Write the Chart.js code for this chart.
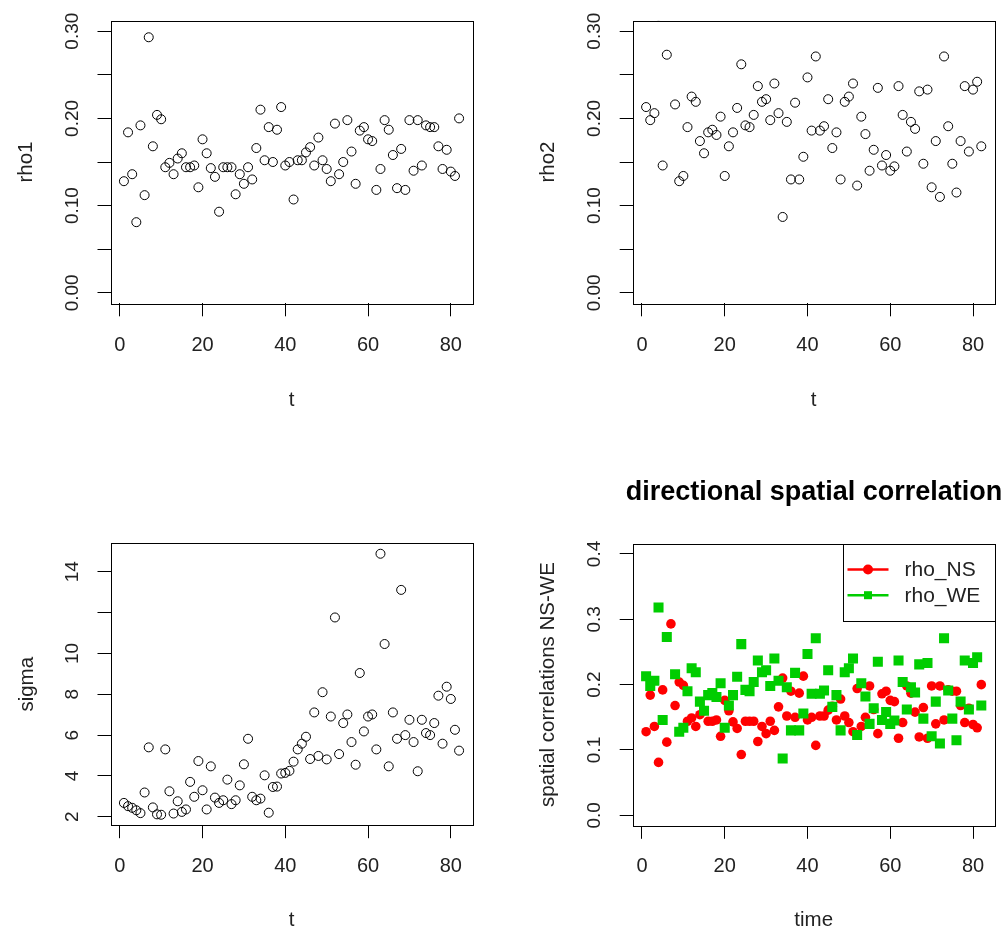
<!DOCTYPE html>
<html><head><meta charset="utf-8">
<script src="https://cdn.jsdelivr.net/npm/chart.js@4.4.1/dist/chart.umd.min.js"></script>
<style>
html,body{margin:0;padding:0;background:#fff;overflow:hidden;width:1008px;height:937px;position:relative;}
canvas{position:absolute;display:block;}
</style></head><body>
<canvas id="c1" width="504" height="468" style="left:0px;top:0px"></canvas>
<canvas id="c2" width="504" height="468" style="left:504px;top:0px"></canvas>
<canvas id="c3" width="504" height="469" style="left:0px;top:468px"></canvas>
<canvas id="c4" width="620" height="469" style="left:504px;top:468px"></canvas>
<script>
// ---------- data ----------
const t = [1,2,3,4,5,6,7,8,9,10,11,12,13,14,15,16,17,18,19,20,21,22,23,24,25,26,27,28,29,30,
  31,32,33,34,35,36,37,38,39,40,41,42,43,44,45,46,47,48,49,50,51,52,53,54,55,56,57,58,59,60,
  61,62,63,64,65,66,67,68,69,70,71,72,73,74,75,76,77,78,79,80,81,82];
const rho1 = [0.128,0.184,0.136,0.081,0.192,0.112,0.293,0.168,0.204,0.199,
  0.144,0.149,0.136,0.154,0.160,0.144,0.144,0.146,0.121,0.176,
  0.160,0.143,0.133,0.093,0.144,0.144,0.144,0.113,0.136,0.125,
  0.144,0.130,0.166,0.210,0.152,0.190,0.150,0.187,0.213,0.146,
  0.150,0.107,0.152,0.152,0.161,0.167,0.146,0.178,0.152,0.142,
  0.128,0.194,0.136,0.150,0.198,0.162,0.125,0.186,0.190,0.176,
  0.174,0.118,0.142,0.198,0.187,0.158,0.120,0.165,0.118,0.198,
  0.140,0.198,0.146,0.192,0.190,0.190,0.168,0.142,0.164,0.139,
  0.134,0.200];
const rho2 = [0.213,0.198,0.206,0.318,0.146,0.273,null,0.216,0.128,0.134,
  0.190,0.225,0.219,0.174,0.160,0.184,0.187,0.181,0.202,0.134,
  0.168,0.184,0.212,0.262,0.192,0.190,0.204,0.237,0.219,0.222,
  0.198,0.240,0.206,0.087,0.196,0.130,0.218,0.130,0.156,0.247,
  0.186,0.271,0.186,0.191,0.222,0.166,0.184,0.130,0.219,0.225,
  0.240,0.123,0.202,0.182,0.140,0.164,0.235,0.146,0.158,0.140,
  0.145,0.237,0.204,0.162,0.196,0.188,0.231,0.148,0.233,0.121,
  0.174,0.110,0.271,0.191,0.148,0.115,0.174,0.237,0.162,0.233,
  0.242,0.168];
const sigma = [2.68,2.52,2.44,2.32,2.18,3.19,5.40,2.46,2.12,2.10,
  5.30,3.25,2.16,2.76,2.24,2.36,3.71,2.98,4.73,3.30,
  2.36,4.47,2.94,2.68,2.81,3.82,2.62,2.81,3.54,4.57,
  5.82,2.98,2.81,2.89,4.03,2.20,3.46,3.48,4.12,4.15,
  4.25,4.70,5.30,5.58,5.92,4.83,7.11,4.98,8.10,4.81,
  6.91,11.76,5.07,6.59,7.01,5.66,4.55,9.04,6.18,6.91,
  7.01,5.30,14.88,10.46,4.47,7.11,5.82,13.11,6.00,6.75,
  5.66,4.23,6.75,6.10,6.00,6.59,7.93,5.58,8.37,7.77,
  6.26,5.24];

const xTicks = [0,20,40,60,80];
const rhoTicks = [0,0.05,0.10,0.15,0.20,0.25,0.30];
const rhoTickLabels = ['0.00','','0.10','','0.20','','0.30'];
const sigmaTicks = [2,4,6,8,10,12,14];
const sigmaTickLabels = ['2','4','6','8','10','','14'];
const corrTicks = [0,0.1,0.2,0.3,0.4];
const corrTickLabels = ['0.0','0.1','0.2','0.3','0.4'];
const rhoLimits = [0, 0.3];
const corrLimits = [0, 0.4];
const seriesNames = ['rho_NS','rho_WE'];
const mainTitle = 'directional spatial correlation';

// ---------- style ----------
const FAM = "'Liberation Sans', Arial, Helvetica, sans-serif";
const XTICK_SIZE = 20, YTICK_SIZE = 19, LAB_SIZE = 20.5, LEG_SIZE = 21, MAIN_SIZE = 27;
const TL = 13; // tick length
const RED = '#ff0000', GREEN = '#00cd00';

function extend(lo, hi){ const d = (hi - lo) * 0.04; return [lo - d, hi + d]; }
function finite(a){ return a.filter(v => v !== null && isFinite(v)); }
function measure(text, size, weight){
  const c = document.createElement('canvas').getContext('2d');
  c.font = (weight || 'normal') + ' ' + size + 'px ' + FAM;
  return c.measureText(text).width;
}
function pts(ys){ return t.map((x, i) => ({x: x, y: ys[i]})); }

const framePlugin = {
  id: 'rframe',
  afterDatasetsDraw(chart){
    const a = chart.chartArea, ctx = chart.ctx;
    ctx.save();
    ctx.strokeStyle = '#000'; ctx.lineWidth = 1;
    ctx.strokeRect(Math.round(a.left) + 0.5, Math.round(a.top) + 0.5,
                   Math.round(a.right - a.left), Math.round(a.bottom - a.top));
    ctx.restore();
  }
};

const legendPlugin = {
  id: 'rlegend',
  afterDraw(chart){
    const o = chart.options.plugins.rlegend;
    if (!o || !o.show) return;
    const a = chart.chartArea, ctx = chart.ctx;
    const w = 152, h = 77;
    const x0 = Math.round(a.right - w) + 0.5, y0 = Math.round(a.top) + 0.5;
    ctx.save();
    ctx.fillStyle = '#fff'; ctx.fillRect(x0, y0, w, h);
    ctx.strokeStyle = '#000'; ctx.lineWidth = 1; ctx.strokeRect(x0, y0, w, h);
    ctx.font = LEG_SIZE + 'px ' + FAM; ctx.textBaseline = 'middle'; ctx.textAlign = 'left';
    chart.data.datasets.forEach((ds, i) => {
      const y = y0 + 25 + i * 25.7;
      ctx.strokeStyle = ds.borderColor; ctx.lineWidth = 2.5;
      ctx.beginPath(); ctx.moveTo(x0 + 4, y); ctx.lineTo(x0 + 45, y); ctx.stroke();
      ctx.fillStyle = ds.backgroundColor;
      if (ds.pointStyle === 'rect') { ctx.fillRect(x0 + 20.5, y - 4, 8, 8); }
      else { ctx.beginPath(); ctx.arc(x0 + 24.5, y, 5, 0, Math.PI * 2); ctx.fill(); }
      ctx.fillStyle = '#222';
      ctx.fillText(ds.label, x0 + 61, y + 1);
    });
    ctx.restore();
  }
};

function makePanel(sp){
  const canvas = document.getElementById(sp.id);
  const W = canvas.width, H = canvas.height, A = sp.area;
  const xTickFont = {family: FAM, size: XTICK_SIZE};
  const yTickFont = {family: FAM, size: YTICK_SIZE};
  const labFont = {family: FAM, size: LAB_SIZE};
  const lh = XTICK_SIZE * 1.2, lhl = LAB_SIZE * 1.2;
  const widest = Math.max.apply(null, sp.yLabels.map(s => measure(s, YTICK_SIZE)));
  const yTickPad = (A.l - sp.yTickCX) - TL - widest / 2;
  const xTickPad = sp.xTickCY - A.b - TL - lh / 2;
  const rightW = W - A.r;
  const scales = {
    x: {
      type: 'linear', position: 'bottom', min: sp.xr[0], max: sp.xr[1],
      afterBuildTicks: s => { s.ticks = xTicks.map(v => ({value: v})); },
      afterFit: s => { s.height = H - A.b; },
      ticks: {autoSkip: false, maxRotation: 0, minRotation: 0, padding: xTickPad,
              color: '#222', font: xTickFont, callback: (v, i) => String(xTicks[i])},
      grid: {drawOnChartArea: false, drawTicks: true, tickLength: TL, color: '#000', lineWidth: 1},
      border: {display: false},
      title: {display: true, text: sp.xTitle, color: '#222', font: labFont,
              padding: {top: 0, bottom: H - sp.xTitleCY - lhl / 2}}
    },
    y: {
      type: 'linear', position: 'left', min: sp.yr[0], max: sp.yr[1],
      afterBuildTicks: s => { s.ticks = sp.yTicks.map(v => ({value: v})); },
      afterFit: s => { s.width = A.l; },
      ticks: {autoSkip: false, minRotation: 90, maxRotation: 90, crossAlign: 'center',
              padding: yTickPad, color: '#222', font: yTickFont,
              callback: (v, i) => sp.yLabels[i]},
      grid: {drawOnChartArea: false, drawTicks: true, tickLength: TL, color: '#000', lineWidth: 1},
      border: {display: false},
      title: {display: true, text: sp.yTitle, color: '#222', font: labFont,
              padding: {top: sp.yTitleCX - lhl / 2, bottom: 0}}
    }
  };
  let padTop = A.t, padRight = rightW;
  const plugins = {legend: {display: false}, tooltip: {enabled: false},
                   rlegend: {show: !!sp.legend}};
  if (sp.main) {
    const mlh = MAIN_SIZE * 1.2;
    const pt = sp.mainCY - mlh / 2;
    plugins.title = {display: true, text: sp.main, color: '#000', fullSize: true,
      font: {family: FAM, size: MAIN_SIZE, weight: 'bold'},
      padding: {top: pt, bottom: A.t - mlh - pt}};
    padTop = 0; padRight = 0;
    scales.yr = {type: 'linear', position: 'right', display: true,
      afterFit: s => { s.width = rightW; },
      ticks: {display: false}, grid: {display: false}, border: {display: false}};
  }
  return new Chart(canvas, {
    type: 'scatter',
    data: {datasets: sp.datasets},
    options: {
      responsive: false, animation: false, devicePixelRatio: 1, events: [],
      layout: {padding: {top: padTop, right: padRight, left: 0, bottom: 0}},
      plugins: plugins,
      scales: scales
    },
    plugins: [framePlugin, legendPlugin]
  });
}

function openCircles(ys){
  return {data: pts(ys), pointStyle: 'circle', pointRadius: 4.5, borderWidth: 1,
          borderColor: '#000', backgroundColor: 'rgba(0,0,0,0)', showLine: false, clip: 0};
}

const xr = extend(Math.min.apply(null, t), Math.max.apply(null, t));
const rhoR = extend(rhoLimits[0], rhoLimits[1]);
const sigR = extend(Math.min.apply(null, finite(sigma)), Math.max.apply(null, finite(sigma)));
const corrR = extend(corrLimits[0], corrLimits[1]);

makePanel({id: 'c1', area: {l: 110.5, t: 20.7, r: 472.5, b: 303.3},
  xr: xr, yr: rhoR, yTicks: rhoTicks, yLabels: rhoTickLabels,
  xTitle: 't', yTitle: 'rho1', yTickCX: 73, xTickCY: 345, xTitleCY: 400, yTitleCX: 26,
  datasets: [openCircles(rho1)]});
makePanel({id: 'c2', area: {l: 128.7, t: 20.7, r: 490.7, b: 303.3},
  xr: xr, yr: rhoR, yTicks: rhoTicks, yLabels: rhoTickLabels,
  xTitle: 't', yTitle: 'rho2', yTickCX: 91.2, xTickCY: 345, xTitleCY: 400, yTitleCX: 44,
  datasets: [openCircles(rho2)]});
makePanel({id: 'c3', area: {l: 110.5, t: 75.3, r: 472.5, b: 357.2},
  xr: xr, yr: sigR, yTicks: sigmaTicks, yLabels: sigmaTickLabels,
  xTitle: 't', yTitle: 'sigma', yTickCX: 73, xTickCY: 398, xTitleCY: 452, yTitleCX: 27,
  datasets: [openCircles(sigma)]});
makePanel({id: 'c4', area: {l: 128.7, t: 75.5, r: 490.7, b: 357.8},
  xr: xr, yr: corrR, yTicks: corrTicks, yLabels: corrTickLabels,
  xTitle: 'time', yTitle: 'spatial correlations NS-WE', yTickCX: 91.2, xTickCY: 398, xTitleCY: 452, yTitleCX: 44,
  main: mainTitle, mainCY: 25, legend: true,
  datasets: [
    {label: seriesNames[0], data: pts(rho1), pointStyle: 'circle', pointRadius: 4.8, borderWidth: 0,
     borderColor: RED, backgroundColor: RED, showLine: false, clip: 0, order: 1},
    {label: seriesNames[1], data: pts(rho2), pointStyle: 'rect', pointRadius: 7.1, borderWidth: 0,
     borderColor: GREEN, backgroundColor: GREEN, showLine: false, clip: 0, order: 0}
  ]});
</script>
</body></html>
